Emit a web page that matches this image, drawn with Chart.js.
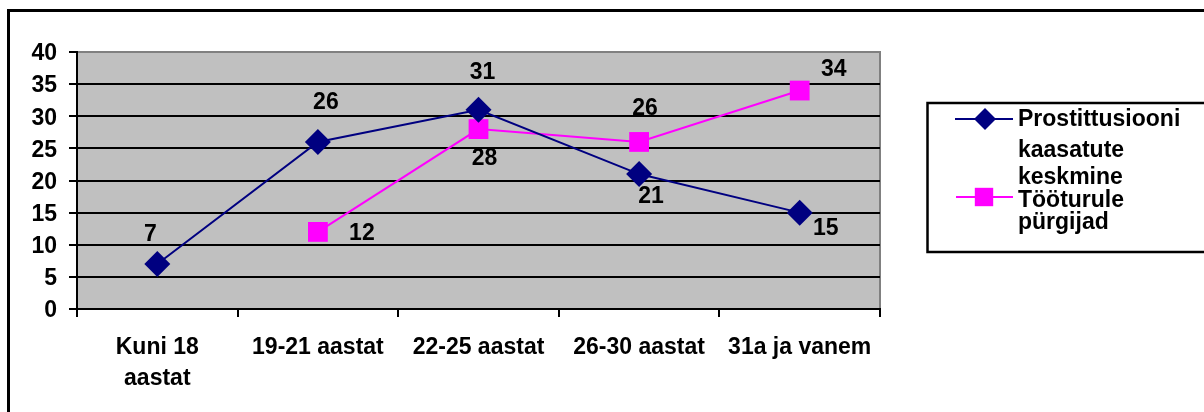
<!DOCTYPE html>
<html>
<head>
<meta charset="utf-8">
<script src="https://cdn.jsdelivr.net/npm/chart.js@4.4.0/dist/chart.umd.min.js"></script>
<style>
  body { margin: 0; background: #fff; }
  #wrap { position: relative; width: 1204px; height: 412px; }
</style>
</head>
<body>
<div id="wrap"><canvas id="ageChart"></canvas></div>
<script>
// data
const categories = [['Kuni 18', 'aastat'], '19-21 aastat', '22-25 aastat', '26-30 aastat', '31a ja vanem'];
const prostNames = ['Prostittusiooni', 'kaasatute', 'keskmine'];
const workNames = ['Tööturule', 'pürgijad'];
const prostValues = [7, 26, 31, 21, 15];
const workValues = [null, 12, 28, 26, 34];
const yTicks = [0, 5, 10, 15, 20, 25, 30, 35, 40];

// where each value label sits relative to its point
const prostLabelOffsets = [[-7, -29], [8, -39], [4, -37], [12, 23], [26, 16]];
const workLabelOffsets = [null, [44, 2], [6, 30], [6, -33], [34, -21]];

const FONT = '"Liberation Sans", Arial, sans-serif';
const BLUE = '#000080';
const PINK = '#ff00ff';

function marker(ctx, style, x, y, r, color) {
  ctx.save();
  ctx.fillStyle = color;
  ctx.beginPath();
  if (style === 'rectRot') {
    ctx.moveTo(x, y - r);
    ctx.lineTo(x + r, y);
    ctx.lineTo(x, y + r);
    ctx.lineTo(x - r, y);
  } else {
    const s = r * Math.SQRT1_2;
    ctx.rect(x - s, y - s, 2 * s, 2 * s);
  }
  ctx.closePath();
  ctx.fill();
  ctx.restore();
}

const framePlugin = {
  id: 'frame',
  beforeDraw(chart) {
    const ctx = chart.ctx;
    const a = chart.chartArea;
    ctx.save();
    ctx.fillStyle = '#fff';
    ctx.fillRect(0, 0, chart.width, chart.height);
    ctx.strokeStyle = '#000';
    ctx.lineWidth = 3;
    ctx.strokeRect(8.5, 10.5, 1400, 600);
    ctx.fillStyle = '#c0c0c0';
    ctx.fillRect(a.left, a.top, a.right - a.left, a.bottom - a.top);
    ctx.strokeStyle = '#808080';
    ctx.lineWidth = 2;
    ctx.beginPath();
    ctx.moveTo(a.left, a.top);
    ctx.lineTo(a.right, a.top);
    ctx.lineTo(a.right, a.bottom);
    ctx.stroke();
    ctx.restore();
  },
  afterDatasetsDraw(chart) {
    const ctx = chart.ctx;
    const sets = [prostLabelOffsets, workLabelOffsets];
    ctx.save();
    ctx.font = 'bold 23px ' + FONT;
    ctx.fillStyle = '#000';
    ctx.textAlign = 'center';
    ctx.textBaseline = 'middle';
    chart.data.datasets.forEach((ds, i) => {
      const meta = chart.getDatasetMeta(i);
      meta.data.forEach((pt, j) => {
        const v = ds.data[j];
        if (v === null) return;
        const off = sets[i][j];
        ctx.fillText(String(v), pt.x + off[0], pt.y + off[1]);
      });
    });
    ctx.restore();
  },
  afterDraw(chart) {
    const ctx = chart.ctx;
    ctx.save();
    ctx.fillStyle = '#fff';
    ctx.fillRect(927.5, 103, 400, 149);
    ctx.strokeStyle = '#000';
    ctx.lineWidth = 2.5;
    ctx.strokeRect(927.5, 103, 400, 149);

    ctx.lineWidth = 2;
    ctx.strokeStyle = BLUE;
    ctx.beginPath();
    ctx.moveTo(955, 119);
    ctx.lineTo(1013, 119);
    ctx.stroke();
    marker(ctx, 'rectRot', 985, 119, 11, BLUE);

    ctx.strokeStyle = PINK;
    ctx.beginPath();
    ctx.moveTo(956, 197);
    ctx.lineTo(1013, 197);
    ctx.stroke();
    marker(ctx, 'rect', 984, 197, 13, PINK);

    ctx.font = 'bold 23px ' + FONT;
    ctx.fillStyle = '#000';
    ctx.textAlign = 'left';
    ctx.textBaseline = 'alphabetic';
    [126, 157, 184].forEach((y, k) => ctx.fillText(prostNames[k], 1018, y));
    [207, 229].forEach((y, k) => ctx.fillText(workNames[k], 1018, y));
    ctx.restore();
  }
};

const ctx = document.getElementById('ageChart').getContext('2d');

const config = {
  type: 'line',
  data: {
    labels: categories,
    datasets: [
      {
        label: prostNames.join(' '),
        data: prostValues,
        borderColor: BLUE,
        backgroundColor: BLUE,
        borderWidth: 2,
        pointStyle: 'rectRot',
        pointRadius: 13,
        pointBorderWidth: 0,
        tension: 0
      },
      {
        label: workNames.join(' '),
        data: workValues,
        borderColor: PINK,
        backgroundColor: PINK,
        borderWidth: 2,
        pointStyle: 'rect',
        pointRadius: 14,
        pointBorderWidth: 0,
        tension: 0
      }
    ]
  },
  options: {
    responsive: true,
    maintainAspectRatio: false,
    animation: false,
    layout: {
      padding: { left: 0, top: 52, right: 324, bottom: 0 }
    },
    plugins: {
      legend: { display: false },
      tooltip: { enabled: false }
    },
    scales: {
      x: {
        offset: true,
        afterFit(scale) { scale.height = 103; },
        grid: {
          offset: true,
          drawOnChartArea: false,
          drawTicks: true,
          tickLength: 8,
          color: '#000',
          lineWidth: 2
        },
        border: { color: '#000', width: 2 },
        ticks: {
          color: '#000',
          padding: 15,
          maxRotation: 0,
          autoSkip: false,
          font: { family: FONT, size: 23, weight: 'bold', lineHeight: 1.35 }
        }
      },
      y: {
        min: 0,
        max: 40,
        afterFit(scale) { scale.width = 77; },
        afterBuildTicks(scale) { scale.ticks = yTicks.map(v => ({ value: v })); },
        grid: {
          color: c => (c.tick && c.tick.value === 40 ? '#808080' : '#000'),
          tickColor: '#000',
          lineWidth: 2,
          tickLength: 8
        },
        border: { color: '#000', width: 2 },
        ticks: {
          color: '#000',
          padding: 12,
          labelOffset: 2,
          font: { family: FONT, size: 23, weight: 'bold' }
        }
      }
    }
  },
  plugins: [framePlugin]
};

const ageChart = new Chart(ctx, config);
</script>
</body>
</html>
